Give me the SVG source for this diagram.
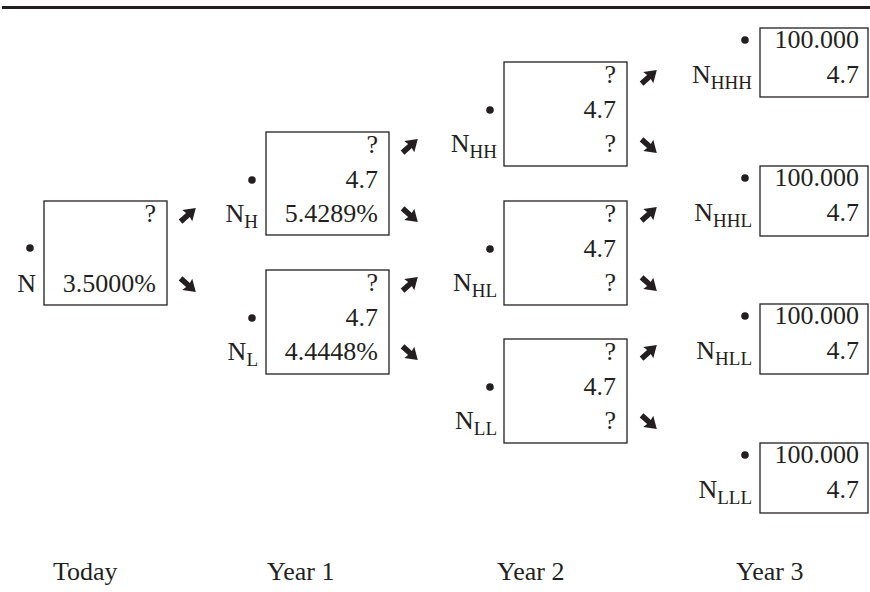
<svg xmlns="http://www.w3.org/2000/svg" width="870" height="592" viewBox="0 0 870 592">
<style>
text{font-family:"Liberation Serif","Times New Roman",serif;font-size:26px;fill:#231f20}
.r{text-anchor:end}
.sub{font-size:19px}
.box{fill:#fff;stroke:#231f20;stroke-width:1.3}
.dot{fill:#231f20}
.arr{fill:#231f20}
</style>
<defs>
<path id="ar" d="M-10,-2.8 L0,-2.8 L-1,-7.5 L10.5,0 L-1,7.5 L0,2.8 L-10,2.8 Z"/>
</defs>
<rect x="2" y="6" width="868" height="3" fill="#231f20"/>

<g id="n0">
<rect class="box" x="44" y="201" width="123" height="104"/>
<circle class="dot" cx="30" cy="248" r="3.8"/>
<text class="r" x="156" y="222">?</text>
<text class="r" x="156" y="292">3.5000%</text>
<text class="r" x="36" y="292">N</text>
</g>

<g id="nH">
<rect class="box" x="266" y="132" width="123" height="103"/>
<circle class="dot" cx="252" cy="180" r="3.8"/>
<text class="r" x="378" y="153">?</text>
<text class="r" x="378" y="188">4.7</text>
<text class="r" x="378" y="222">5.4289%</text>
<text class="r" x="258" y="222">N<tspan class="sub" dy="6">H</tspan></text>
</g>

<g id="nL">
<rect class="box" x="266" y="270" width="123" height="104"/>
<circle class="dot" cx="252" cy="318" r="3.8"/>
<text class="r" x="378" y="291">?</text>
<text class="r" x="378" y="326">4.7</text>
<text class="r" x="378" y="360">4.4448%</text>
<text class="r" x="258" y="360">N<tspan class="sub" dy="6">L</tspan></text>
</g>

<g id="nHH">
<rect class="box" x="504" y="62" width="123" height="104"/>
<circle class="dot" cx="490" cy="110" r="3.8"/>
<text class="r" x="616" y="83">?</text>
<text class="r" x="616" y="118">4.7</text>
<text class="r" x="616" y="152">?</text>
<text class="r" x="497" y="152">N<tspan class="sub" dy="6">HH</tspan></text>
</g>

<g id="nHL">
<rect class="box" x="504" y="201" width="123" height="104"/>
<circle class="dot" cx="490" cy="249" r="3.8"/>
<text class="r" x="616" y="222">?</text>
<text class="r" x="616" y="257">4.7</text>
<text class="r" x="616" y="291">?</text>
<text class="r" x="497" y="291">N<tspan class="sub" dy="6">HL</tspan></text>
</g>

<g id="nLL">
<rect class="box" x="504" y="339" width="123" height="104"/>
<circle class="dot" cx="490" cy="387" r="3.8"/>
<text class="r" x="616" y="360">?</text>
<text class="r" x="616" y="395">4.7</text>
<text class="r" x="616" y="429">?</text>
<text class="r" x="497" y="429">N<tspan class="sub" dy="6">LL</tspan></text>
</g>

<g id="nHHH">
<rect class="box" x="760" y="28" width="108" height="69"/>
<circle class="dot" cx="745" cy="40" r="3.8"/>
<text class="r" x="859" y="48">100.000</text>
<text class="r" x="859" y="83">4.7</text>
<text class="r" x="752" y="83">N<tspan class="sub" dy="6">HHH</tspan></text>
</g>

<g id="nHHL">
<rect class="box" x="760" y="166" width="108" height="70"/>
<circle class="dot" cx="745" cy="178" r="3.8"/>
<text class="r" x="859" y="186">100.000</text>
<text class="r" x="859" y="221">4.7</text>
<text class="r" x="752" y="221">N<tspan class="sub" dy="6">HHL</tspan></text>
</g>

<g id="nHLL">
<rect class="box" x="760" y="304" width="108" height="70"/>
<circle class="dot" cx="745" cy="316" r="3.8"/>
<text class="r" x="859" y="324">100.000</text>
<text class="r" x="859" y="359">4.7</text>
<text class="r" x="752" y="359">N<tspan class="sub" dy="6">HLL</tspan></text>
</g>

<g id="nLLL">
<rect class="box" x="760" y="443" width="108" height="70"/>
<circle class="dot" cx="745" cy="455" r="3.8"/>
<text class="r" x="859" y="463">100.000</text>
<text class="r" x="859" y="498">4.7</text>
<text class="r" x="752" y="498">N<tspan class="sub" dy="6">LLL</tspan></text>
</g>

<g id="connectors" class="arr">
<use href="#ar" transform="translate(188,215) rotate(-42)"/>
<use href="#ar" transform="translate(188,285) rotate(42)"/>
<use href="#ar" transform="translate(410,146) rotate(-42)"/>
<use href="#ar" transform="translate(410,215) rotate(42)"/>
<use href="#ar" transform="translate(410,284) rotate(-42)"/>
<use href="#ar" transform="translate(410,353) rotate(42)"/>
<use href="#ar" transform="translate(649,77) rotate(-42)"/>
<use href="#ar" transform="translate(649,146) rotate(42)"/>
<use href="#ar" transform="translate(649,214) rotate(-42)"/>
<use href="#ar" transform="translate(649,284) rotate(42)"/>
<use href="#ar" transform="translate(649,352) rotate(-42)"/>
<use href="#ar" transform="translate(649,422) rotate(42)"/>
</g>

<g id="labels">
<text x="53" y="580">Today</text>
<text x="267" y="580">Year 1</text>
<text x="497" y="580">Year 2</text>
<text x="736" y="580">Year 3</text>
</g>
</svg>
